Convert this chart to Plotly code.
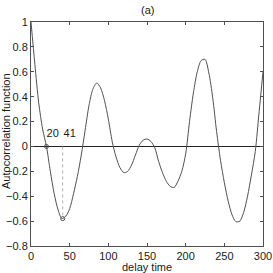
import plotly.graph_objects as go

delay = list(range(0, 301, 5))
acf = [1.00, 0.66, 0.35, 0.14, 0.00, -0.20, -0.38, -0.51, -0.58, -0.56,
       -0.50, -0.38, -0.24, -0.07, 0.13, 0.33, 0.46, 0.51, 0.47, 0.37,
       0.22, 0.04, -0.085, -0.17, -0.21, -0.20, -0.15, -0.07, 0.01, 0.05,
       0.06, 0.04, -0.01, -0.12, -0.21, -0.28, -0.32, -0.33, -0.28, -0.20,
       -0.06, 0.20, 0.43, 0.60, 0.69, 0.70, 0.59, 0.39, 0.12, -0.11,
       -0.29, -0.44, -0.55, -0.605, -0.60, -0.53, -0.40, -0.23, -0.04, 0.28,
       0.60]

mark_x = [20, 41]
mark_y = [0.0, -0.58]
mark_labels = ["20", "41"]
label_x = [28, 50]
label_y = [0.1, 0.1]

xticks = [0, 50, 100, 150, 200, 250, 300]
yticks = [-0.8, -0.6, -0.4, -0.2, 0, 0.2, 0.4, 0.6, 0.8, 1]
yticklabels = ["\u22120.8", "\u22120.6", "\u22120.4", "\u22120.2", "0", "0.2", "0.4", "0.6", "0.8", "1"]

font = "Liberation Sans, Arial, sans-serif"
grey = "#505050"
txt = "#1a1a1a"

fig = go.Figure()
fig.add_trace(go.Scatter(x=delay, y=acf, mode="lines",
                         line=dict(color=grey, width=1, shape="spline", smoothing=0.8),
                         hoverinfo="skip"))
fig.add_trace(go.Scatter(x=[mark_x[1], mark_x[1]], y=[mark_y[0], mark_y[1]], mode="lines",
                         line=dict(color="#b0b0b0", width=1, dash="dot"), hoverinfo="skip"))
fig.add_trace(go.Scatter(x=mark_x, y=mark_y, mode="markers",
                         marker=dict(symbol="circle-open", size=4, color=grey, line=dict(width=1, color=grey)),
                         hoverinfo="skip"))
fig.add_trace(go.Scatter(x=label_x, y=label_y, mode="text", text=mark_labels,
                         textfont=dict(family=font, size=11, color=txt), hoverinfo="skip"))

axis_common = dict(showline=True, linecolor=grey, linewidth=1, mirror="ticks", ticks="inside",
                   ticklen=3, tickcolor=grey, showgrid=False, automargin=False,
                   tickfont=dict(family=font, size=11, color=txt))

fig.update_layout(
    width=273, height=273,
    margin=dict(l=31, r=10, t=22, b=27),
    paper_bgcolor="white", plot_bgcolor="white",
    showlegend=False,
    xaxis=dict(range=[0, 300], tickvals=xticks, ticktext=[str(t) for t in xticks],
               zeroline=False, ticklabelstandoff=0, **axis_common),
    yaxis=dict(range=[-0.8, 1], tickvals=yticks, ticktext=yticklabels,
               zeroline=True, zerolinecolor="#222222", zerolinewidth=1, ticklabelstandoff=0, **axis_common),
    annotations=[
        dict(text="(a)", xref="paper", yref="paper", x=0.5, y=1, yshift=12, xanchor="center", yanchor="middle",
             showarrow=False, font=dict(family=font, size=11, color=txt)),
        dict(text="delay time", xref="paper", yref="paper", x=0.5, y=0, yshift=-21, xanchor="center", yanchor="middle",
             showarrow=False, font=dict(family=font, size=11, color=txt)),
        dict(text="Autocorrelation function", xref="paper", yref="paper", x=0, xshift=-25, y=0.5, yshift=3,
             xanchor="center", yanchor="middle", textangle=-90,
             showarrow=False, font=dict(family=font, size=11, color=txt)),
    ],
)

fig.write_html("out.html", config={"displayModeBar": False},
               post_script="document.body.style.margin='0px';document.body.style.overflow='hidden';")
